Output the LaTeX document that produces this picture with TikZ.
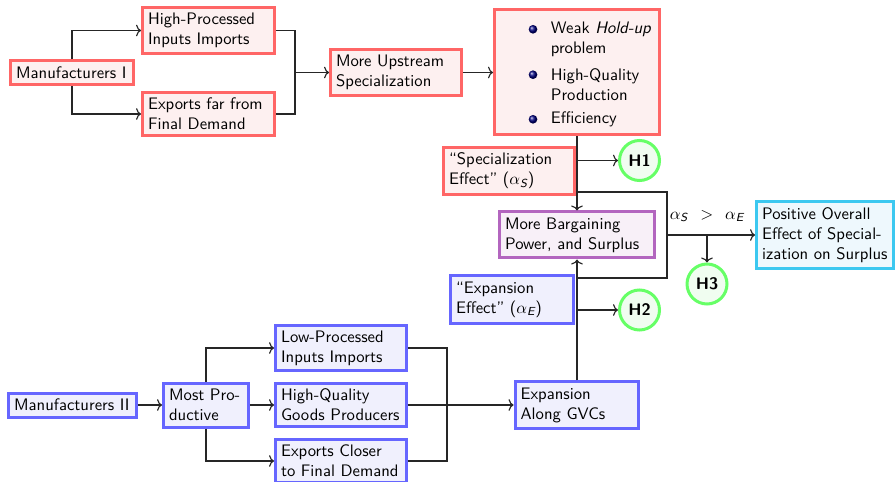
\documentclass[tikz,border=0pt]{standalone}
\usepackage{fontspec}
\usetikzlibrary{calc,arrows.meta}
\definecolor{rb}{HTML}{FF6666}\definecolor{rf}{HTML}{FDF0F0}
\definecolor{bb}{HTML}{6666FF}\definecolor{bf}{HTML}{F0F0FD}
\definecolor{pb}{HTML}{B366BF}\definecolor{pf}{HTML}{F8F0F8}
\definecolor{cb}{HTML}{3CC8F0}\definecolor{cf}{HTML}{EEF8FD}
\definecolor{gb}{HTML}{66FF66}\definecolor{gf}{HTML}{F0FDF0}
\newcommand{\mysub}[1]{\mbox{\scriptsize\sffamily\itshape #1}}
\def\pxu{0.6pt}
\begin{document}
\begin{tikzpicture}[x=\pxu,y=-\pxu,
  every node/.style={font=\sffamily},
  box/.style={draw, line width=1.8pt, inner xsep=3.33pt, align=left},
  sz/.style 2 args={text width=#1*\pxu-8.5pt, minimum height=#2*\pxu},
  redbox/.style={box, draw=rb, fill=rf},
  bluebox/.style={box, draw=bb, fill=bf},
  purbox/.style={box, draw=pb, fill=pf},
  cyabox/.style={box, draw=cb, fill=cf},
  hyp/.style={circle, draw=gb, fill=gf, line width=1.8pt, minimum size=40*\pxu, inner sep=0pt, font=\sffamily\bfseries},
  conn/.style={line width=0.7pt, draw=black!85},
  arr/.style={conn, -{To[length=3pt,width=7pt]}},
  bullet/.style={ball color=blue!50!black}
]
\useasboundingbox (0,0) rectangle (895,482);

% top branch
\node[redbox, sz={126}{24}] (m1) at (72,73) {Manufacturers I};
\node[redbox, sz={135}{45}] (hp) at (208.5,30.5) {High-Processed\\Inputs Imports};
\node[redbox, sz={135}{42}] (ef) at (208.5,114) {Exports far from\\Final Demand};
\node[redbox, sz={134}{45}] (mus) at (396,72.5) {More Upstream\\Specialization};
\node[redbox, minimum width=165*\pxu, minimum height=125*\pxu] (qual) at (577,72.5) {};
\shade[bullet] (533,29.3) circle (2.6pt);
\shade[bullet] (533,74.7) circle (2.6pt);
\shade[bullet] (533,119.3) circle (2.6pt);
\node[anchor=west, align=left] (i1) at (545,39.5) {Weak \textit{Hold-up}\\problem};
\node[anchor=west, align=left] (i2) at (545,84.5) {High-Quality\\Production};
\node[anchor=west, align=left] (i3) at (545,119.5) {Efficiency};

\node[redbox, sz={134}{46}] (se) at (509,171) {“Specialization\\Effect” ($\alpha_{\mysub{S}}$)};
\node[hyp] (h1) at (639.5,160.5) {H1};
\node[purbox, sz={158}{46}] (bar) at (577,235) {More Bargaining\\Power, and Surplus};
\node[cyabox, sz={140}{65}] (pos) at (825,235) {Positive Overall\\Effect of Special-\\ization on Surplus};
\node[hyp] (h3) at (707,284) {H3};
\node[bluebox, sz={126}{47}] (ee) at (512,299.5) {“Expansion\\Effect” ($\alpha_{\mysub{E}}$)};
\node[hyp] (h2) at (639.5,310) {H2};
\node (cmp) at (707,216) {$\alpha_{\mysub{S}}\;\,>\;\,\alpha_{\mysub{E}}$};

% bottom branch
\node[bluebox, sz={127}{45}] (gvc) at (577,405) {Expansion\\Along GVCs};
\node[bluebox, sz={131}{24}] (m2) at (72.5,405) {Manufacturers II};
\node[bluebox, sz={88}{44}] (mp) at (206,405) {Most Pro-\\ductive};
\node[bluebox, sz={134}{44}] (lp) at (341,348) {Low-Processed\\Inputs Imports};
\node[bluebox, sz={134}{43}] (hq) at (341,405) {High-Quality\\Goods Producers};
\node[bluebox, sz={134}{43}] (ec) at (341,461) {Exports Closer\\to Final Demand};

% coordinates
\coordinate (j1) at (295,72.5);
\coordinate (c1) at (577,192);
\coordinate (c3) at (667,278);
\coordinate (c4) at (577,278);
\coordinate (j2) at (667,235);
\coordinate (j3) at (707,235);
\coordinate (j4) at (447,405);

% top connectors
\draw[arr] (m1.north) |- (hp.west);
\draw[arr] (m1.south) |- (ef.west);
\draw[conn] (hp.east) -| (j1);
\draw[conn] (ef.east) -| (j1);
\draw[arr] (j1) -- (mus.west);
\draw[arr] (mus.east) -- (qual.west);
\draw[arr] (qual.south) -- (bar.north);
\draw[arr] (qual.south |- h1) -- (h1.west);
\draw[conn] (c1) -| (c3) -- (c4);
\draw[arr] (j2) -- (j2 -| pos.west);
\draw[arr] (j3) -- (h3.north);

% bottom connectors
\draw[arr] (gvc.north) -- (bar.south);
\draw[arr] (gvc.north |- h2) -- (h2.west);
\draw[arr] (m2.east) -- (mp.west);
\draw[arr] (mp.north) |- (lp.west);
\draw[arr] (mp.east) -- (hq.west);
\draw[arr] (mp.south) |- (ec.west);
\draw[conn] (lp.east) -| (j4);
\draw[conn] (ec.east) -| (j4);
\draw[arr] (hq.east) -- (gvc.west);
\end{tikzpicture}
\end{document}
